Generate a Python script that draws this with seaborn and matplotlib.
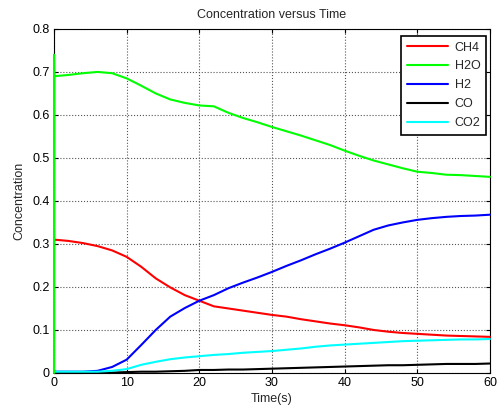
import numpy as np
import pandas as pd
import matplotlib
matplotlib.use("Agg")
import matplotlib.pyplot as plt
import seaborn as sns

time = [0, 0.05, 2, 4, 6, 8, 10, 12, 14, 16, 18, 20, 22, 24, 26, 28, 30, 32, 34, 36, 38, 40, 42, 44, 46, 48, 50, 52, 54, 56, 58, 60]
ch4 = [0.31, 0.31, 0.307, 0.302, 0.295, 0.285, 0.270, 0.247, 0.220, 0.199, 0.181, 0.168, 0.155, 0.150, 0.145, 0.140, 0.135, 0.131, 0.125, 0.120, 0.115, 0.111, 0.106, 0.100, 0.096, 0.093, 0.091, 0.089, 0.087, 0.086, 0.085, 0.084]
h2o = [0.0, 0.69, 0.693, 0.697, 0.70, 0.697, 0.685, 0.668, 0.65, 0.636, 0.628, 0.622, 0.62, 0.605, 0.593, 0.583, 0.572, 0.562, 0.552, 0.541, 0.53, 0.517, 0.505, 0.494, 0.485, 0.476, 0.468, 0.465, 0.461, 0.460, 0.458, 0.456]
h2 = [0.003, 0.003, 0.003, 0.003, 0.005, 0.014, 0.031, 0.065, 0.100, 0.131, 0.151, 0.168, 0.181, 0.197, 0.210, 0.222, 0.235, 0.249, 0.262, 0.276, 0.289, 0.303, 0.318, 0.333, 0.343, 0.350, 0.356, 0.360, 0.363, 0.365, 0.366, 0.368]
co = [0.0, 0.0, 0.0, 0.0, 0.001, 0.001, 0.002, 0.003, 0.003, 0.004, 0.005, 0.007, 0.007, 0.008, 0.008, 0.009, 0.010, 0.011, 0.012, 0.013, 0.014, 0.015, 0.016, 0.017, 0.018, 0.018, 0.019, 0.020, 0.021, 0.021, 0.021, 0.022]
co2 = [0.003, 0.003, 0.003, 0.003, 0.003, 0.005, 0.009, 0.019, 0.026, 0.032, 0.036, 0.039, 0.042, 0.044, 0.047, 0.049, 0.051, 0.054, 0.057, 0.061, 0.064, 0.066, 0.068, 0.070, 0.072, 0.074, 0.075, 0.076, 0.077, 0.078, 0.078, 0.079]
species = ["CH4", "H2O", "H2", "CO", "CO2"]
colors = ["#ff0000", "#00ff00", "#0000ff", "#000000", "#00ffff"]

sns.set_style("white")
plt.rcParams['font.family'] = ['Liberation Sans', 'DejaVu Sans']

frames = []
for name, vals in zip(species, [ch4, h2o, h2, co, co2]):
    frames.append(pd.DataFrame({"Time": time, "Concentration": vals, "Species": name}))
df = pd.concat(frames, ignore_index=True)

# H2O has a vertical spike at t=0 up to ~0.74
spike = pd.DataFrame({"Time": [0, 0, 0.05], "Concentration": [0.0, 0.74, 0.69], "Species": "H2O"})

fig = plt.figure(figsize=(4.97, 4.13), dpi=100)
ax = fig.add_axes([0.1087, 0.0969, 0.877, 0.8331])

sns.lineplot(data=df, x="Time", y="Concentration", hue="Species", hue_order=species,
             palette=colors, linewidth=1.5, ax=ax, estimator=None, sort=False, zorder=3)
sns.lineplot(data=spike, x="Time", y="Concentration", color="#00ff00", linewidth=1.5,
             ax=ax, estimator=None, sort=False, legend=False, zorder=4)
for ln in ax.lines:
    ln.set_clip_on(False)

ax.set_xlim(0, 60)
ax.set_ylim(0, 0.8)
ax.set_xticks([0, 10, 20, 30, 40, 50, 60])
ax.set_yticks([0, 0.1, 0.2, 0.3, 0.4, 0.5, 0.6, 0.7, 0.8])
ax.set_yticklabels(["0", "0.1", "0.2", "0.3", "0.4", "0.5", "0.6", "0.7", "0.8"])
ax.grid(True, color="#555555", linestyle=":", linewidth=0.8)
ax.tick_params(direction="in", length=3, labelsize=9, top=True, right=True,
               bottom=True, left=True, colors="black", pad=3)
for s in ax.spines.values():
    s.set_color("black")
    s.set_linewidth(0.8)
    s.set_zorder(2.5)
ax.set_title("Concentration versus Time", fontsize=9, pad=8)
ax.set_xlabel("Time(s)", fontsize=9, labelpad=3)
ax.set_ylabel("Concentration", fontsize=9, labelpad=5)

leg = ax.legend(loc="upper right", bbox_to_anchor=(1 - 4 / 436, 1 - 7 / 345),
                fontsize=9, frameon=True, fancybox=False,
                edgecolor="black", framealpha=1, handlelength=3.3,
                borderaxespad=0, labelspacing=0.55, borderpad=0.45, handletextpad=0.5)
leg.get_frame().set_linewidth(1.2)
leg.set_zorder(5)

fig.savefig("out.png", dpi=100)
